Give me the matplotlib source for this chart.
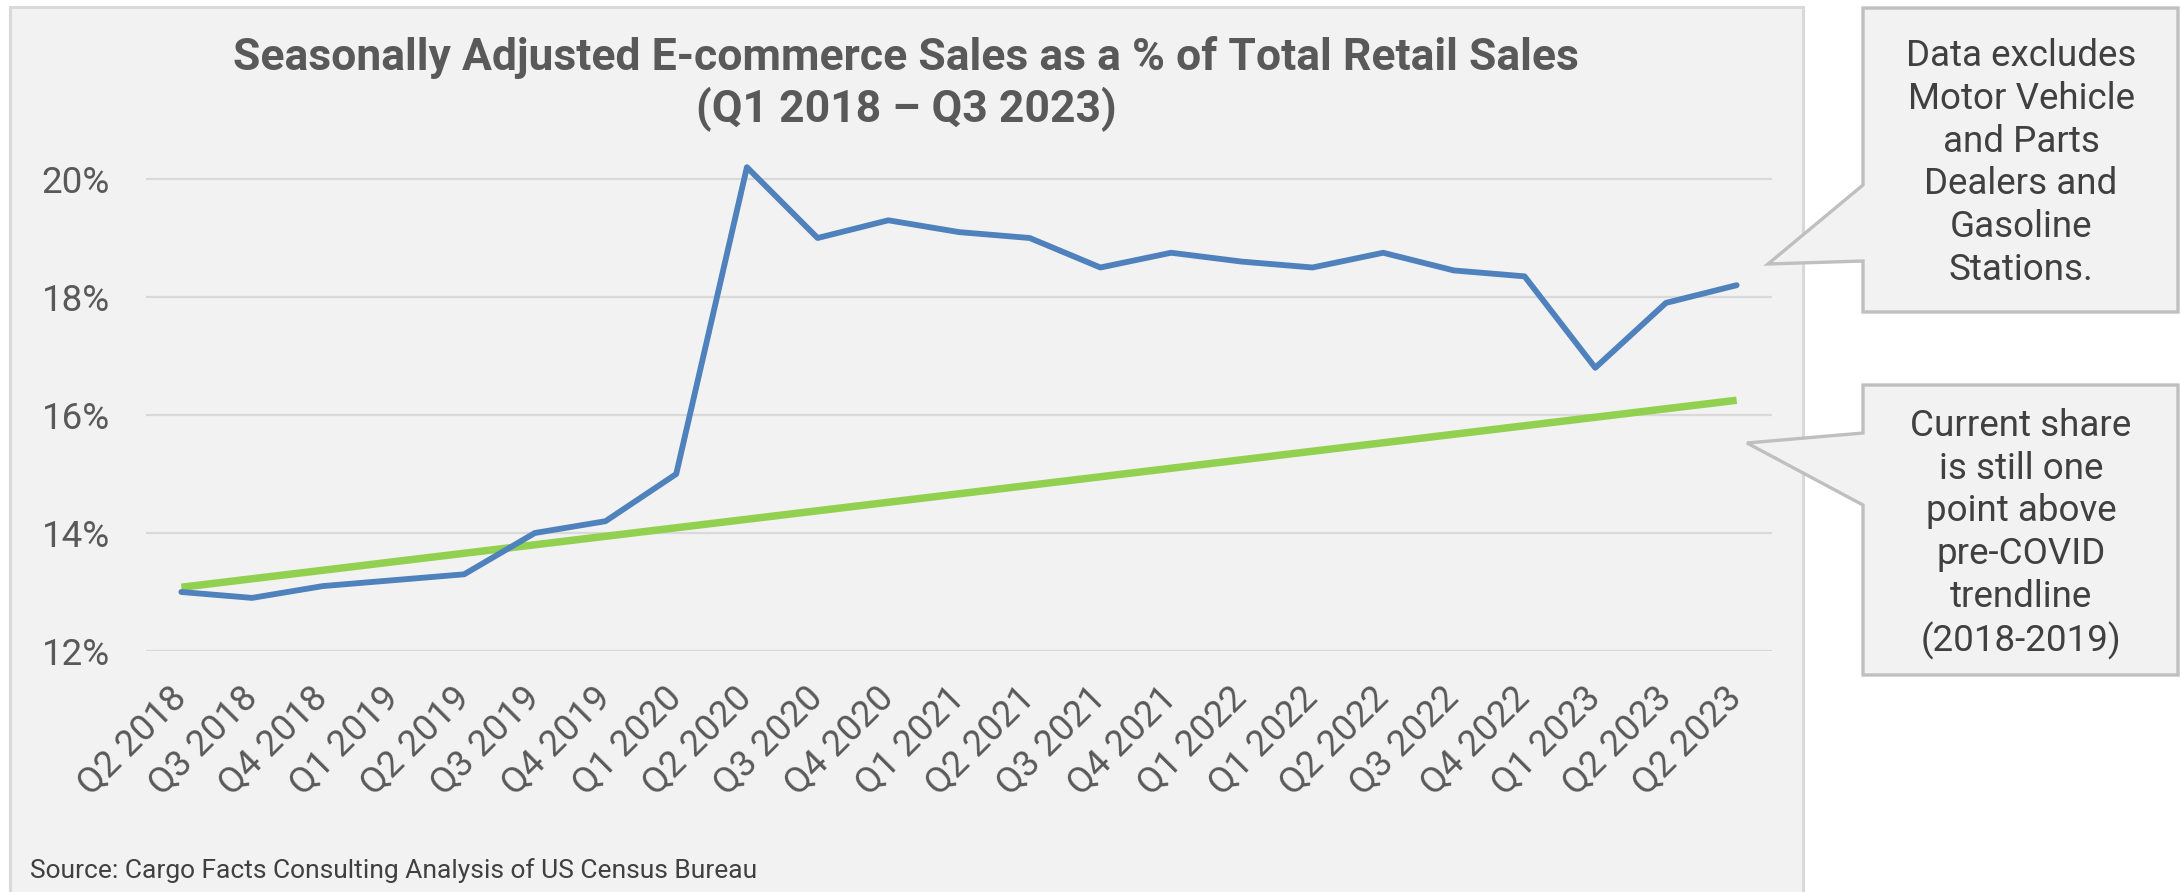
import matplotlib
matplotlib.use('Agg')
import matplotlib.pyplot as plt
from matplotlib.patches import Rectangle, Polygon

# data
quarters = ['Q2 2018', 'Q3 2018', 'Q4 2018', 'Q1 2019', 'Q2 2019', 'Q3 2019', 'Q4 2019',
            'Q1 2020', 'Q2 2020', 'Q3 2020', 'Q4 2020', 'Q1 2021', 'Q2 2021', 'Q3 2021',
            'Q4 2021', 'Q1 2022', 'Q1 2022', 'Q2 2022', 'Q3 2022', 'Q4 2022', 'Q1 2023',
            'Q2 2023', 'Q2 2023']
ecom_share = [13.0, 12.9, 13.1, 13.2, 13.3, 14.0, 14.2, 15.0, 20.2, 19.0, 19.3, 19.1,
              19.0, 18.5, 18.75, 18.6, 18.5, 18.75, 18.45, 18.35, 16.8, 17.9, 18.2]
trend_ends = [13.08, 16.25]   # pre-COVID linear trendline at first / last quarter
y_ticks = [12, 14, 16, 18, 20]

title = ('Seasonally Adjusted E-commerce Sales as a % of Total Retail Sales\n'
         '(Q1 2018 \u2013 Q3 2023)')
note_top = 'Data excludes\nMotor Vehicle\nand Parts\nDealers and\nGasoline\nStations.'
note_bottom = 'Current share\nis still one\npoint above\npre-COVID\ntrendline\n(2018-2019)'
source = 'Source: Cargo Facts Consulting Analysis of US Census Bureau'

W, H = 2180, 892
plt.rcParams['font.family'] = ['Roboto', 'DejaVu Sans']

fig = plt.figure(figsize=(W / 100, H / 100), dpi=100)
fig.patch.set_facecolor('white')

# background layer in pixel coordinates
bg = fig.add_axes([0, 0, 1, 1], zorder=0)
bg.set_xlim(0, W)
bg.set_ylim(H, 0)
bg.axis('off')
bg.add_patch(Rectangle((10, 7), 1793, 900, facecolor='#f2f2f2',
                       edgecolor='#d9d9d9', lw=2.2))

callout_style = dict(facecolor='#f2f2f2', edgecolor='#bfbfbf', lw=2.4, joinstyle='miter')
bg.add_patch(Polygon([(1863, 8), (2178, 8), (2178, 312), (1863, 312), (1863, 261),
                      (1768, 264), (1863, 185)], closed=True, **callout_style))
bg.add_patch(Polygon([(1863, 385), (2178, 385), (2178, 675), (1863, 675), (1863, 505),
                      (1747, 443), (1863, 433)], closed=True, **callout_style))

bg.text(2021, 163, note_top, ha='center', va='center', fontsize=26.5,
        color='#404040', linespacing=1.24)
bg.text(2021, 534, note_bottom, ha='center', va='center', fontsize=26.5,
        color='#404040', linespacing=1.24)
bg.text(906, 84, title, ha='center', va='center', fontsize=32, fontweight='bold',
        color='#595959', linespacing=1.25)
bg.text(30, 871, source, ha='left', va='center', fontsize=19, color='#404040')

# main plot
left, right, bottom_px = 146, 1772, 651
ymin, ymax = 12, 20.5
px_per_unit = 59
top_px = bottom_px - (ymax - ymin) * px_per_unit
ax = fig.add_axes([left / W, (H - bottom_px) / H, (right - left) / W,
                   (bottom_px - top_px) / H], zorder=1)
ax.patch.set_alpha(0)

x = list(range(len(quarters)))
ax.plot(x, ecom_share, color='#4f81bd', lw=4.2, solid_joinstyle='round',
        solid_capstyle='round', clip_on=False, zorder=3)
ax.plot([x[0], x[-1]], trend_ends, color='#92d050', lw=5.4, solid_capstyle='butt',
        clip_on=False, zorder=2)

ax.set_xlim(-0.5, len(quarters) - 0.5)
ax.set_ylim(ymin, ymax)
ax.set_yticks(y_ticks)
ax.set_yticklabels([f'{v}%' for v in y_ticks])
ax.set_xticks(x)
ax.set_xticklabels(quarters, rotation=45, ha='right', va='center', rotation_mode='anchor')
ax.tick_params(axis='y', length=0, pad=26, labelsize=26.5, labelcolor='#595959')
ax.tick_params(axis='x', length=0, pad=30, labelsize=26.5, labelcolor='#595959')
ax.grid(axis='y', color='#d9d9d9', lw=1.6)
ax.set_axisbelow(True)
for s in ax.spines.values():
    s.set_visible(False)

fig.savefig('out.png', dpi=100)
